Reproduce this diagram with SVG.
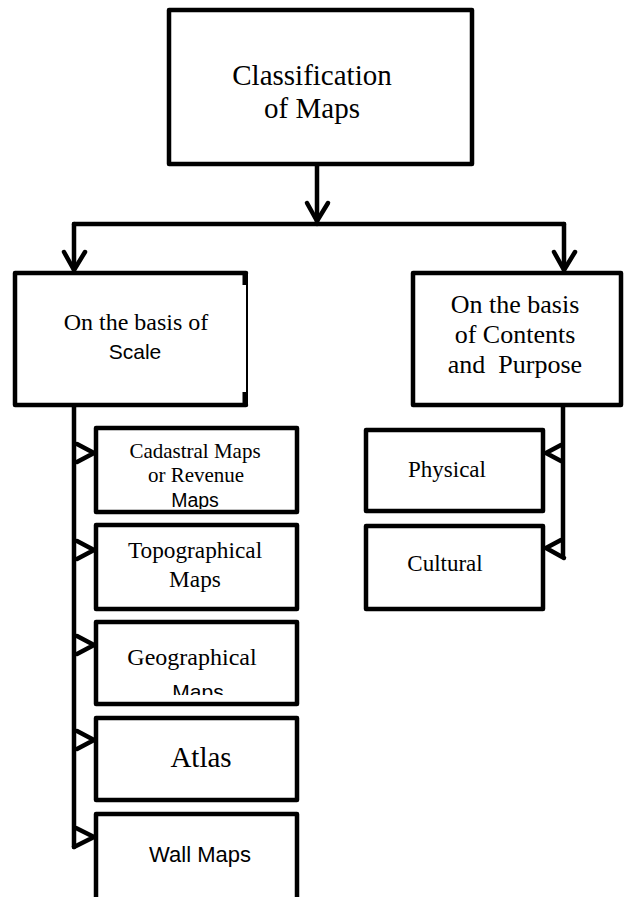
<svg xmlns="http://www.w3.org/2000/svg" width="624" height="897" viewBox="0 0 624 897">
<style>
.box{fill:#fff;stroke:#000;stroke-width:4.5;stroke-linejoin:round}
.ln{fill:none;stroke:#000;stroke-width:4.5;stroke-linecap:round;stroke-linejoin:round}
.serif{font-family:"Liberation Serif","Times New Roman",serif;fill:#000;text-anchor:middle}
.sans{font-family:"Liberation Sans",Arial,sans-serif;fill:#000;text-anchor:middle}
</style>
<defs>
<clipPath id="clipGeo"><rect x="96" y="622" width="201" height="73"/></clipPath>
<clipPath id="clipCad"><rect x="96" y="428" width="201" height="81"/></clipPath>
</defs>
<rect width="624" height="897" fill="#fff"/>
<g id="connectors">
<path class="ln" d="M317 164 V224"/>
<path class="ln" d="M307 203 L317 221 L328 203"/>
<path class="ln" d="M74 224 H564"/>
<path class="ln" d="M74 224 V270"/>
<path class="ln" d="M64 252 L74 270 L85 252"/>
<path class="ln" d="M564 224 V270"/>
<path class="ln" d="M554 252 L564 270 L575 252"/>
<path class="ln" d="M74 405 V847"/>
<path class="ln" d="M77 444 L94 453 L77 462"/>
<path class="ln" d="M77 541 L94 550 L77 559"/>
<path class="ln" d="M77 636 L94 645 L77 654"/>
<path class="ln" d="M77 731 L94 740 L77 749"/>
<path class="ln" d="M76 828 L94 837 L74 847"/>
<path class="ln" d="M563 405 V557"/>
<path class="ln" d="M561 445 L546 453 L561 461"/>
<path class="ln" d="M561 540 L546 548 L564 558"/>
</g>
<g id="root">
<rect class="box" x="169" y="10" width="303" height="154"/>
<text class="serif" font-size="29" x="312" y="85">Classification</text>
<text class="serif" font-size="29" x="312" y="118">of Maps</text>
</g>
<g id="scale">
<rect x="15" y="273" width="232" height="132" fill="#fff"/>
<path class="ln" d="M246 273 H15 V405 H246"/>
<path d="M247 273 V405" stroke="#000" stroke-width="2" fill="none"/>
<path d="M245 273 V285 M245 392 V405" stroke="#000" stroke-width="5" fill="none"/>
<text class="serif" font-size="24" x="136" y="330">On the basis of</text>
<text class="sans" font-size="21" x="135" y="359">Scale</text>
</g>
<g id="contents">
<rect class="box" x="413" y="273" width="208" height="132"/>
<text class="serif" font-size="26" x="515" y="313">On the basis</text>
<text class="serif" font-size="26" x="515" y="343">of Contents</text>
<text class="serif" font-size="26" x="515" y="373" xml:space="preserve">and  Purpose</text>
</g>
<g id="cadastral">
<rect class="box" x="96" y="428" width="201" height="84"/>
<text class="serif" font-size="21" x="195" y="458">Cadastral Maps</text>
<text class="serif" font-size="21" x="196" y="482">or Revenue</text>
<text class="sans" font-size="19.5" x="195" y="507" clip-path="url(#clipCad)">Maps</text>
</g>
<g id="topographical">
<rect class="box" x="96" y="525" width="201" height="84"/>
<text class="serif" font-size="23.3" x="195" y="558">Topographical</text>
<text class="serif" font-size="23.3" x="195" y="587">Maps</text>
</g>
<g id="geographical">
<rect class="box" x="96" y="622" width="201" height="82"/>
<text class="serif" font-size="24" x="192" y="665">Geographical</text>
<text class="sans" font-size="21" x="198" y="699" clip-path="url(#clipGeo)">Maps</text>
</g>
<g id="atlas">
<rect class="box" x="96" y="718" width="201" height="82"/>
<text class="serif" font-size="29" x="201" y="767">Atlas</text>
</g>
<g id="wall">
<rect class="box" x="96" y="814" width="201" height="95"/>
<text class="sans" font-size="22" x="200" y="862">Wall Maps</text>
</g>
<g id="physical">
<rect class="box" x="366" y="430" width="177" height="81"/>
<text class="serif" font-size="23" x="447" y="477">Physical</text>
</g>
<g id="cultural">
<rect class="box" x="366" y="526" width="177" height="83"/>
<text class="serif" font-size="23" x="445" y="571">Cultural</text>
</g>
</svg>
